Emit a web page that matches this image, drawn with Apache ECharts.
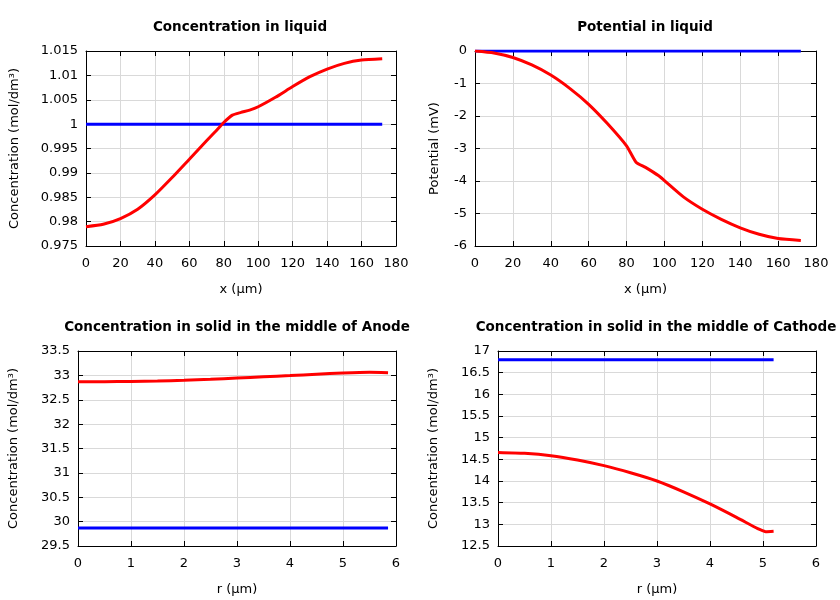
<!DOCTYPE html>
<html><head><meta charset="utf-8">
<script src="https://cdn.jsdelivr.net/npm/echarts@6/dist/echarts.min.js"></script>
<style>html,body{margin:0;padding:0;background:#fff}#c{width:840px;height:600px}</style>
</head><body><div id="c"></div>
<script>
// Chart 1: Concentration in liquid
const liqX = [0,10,20,30,40,50,60,70,75,80,85,90,95,100,110,120,130,140,150,160,172];
const liqConcRed = [0.97897,0.97945,0.98062,0.98253,0.98548,0.98904,0.99281,0.99658,0.99842,1.00034,1.00185,1.0024,1.00287,1.00356,1.0055,1.0077,1.00973,1.0113,1.01247,1.01315,1.01342];
const liqConcBlue = [1,1,1,1,1,1,1,1,1,1,1,1,1,1,1,1,1,1,1,1,1];
// Chart 2: Potential in liquid
const potX = [0,10,20,30,40,50,60,70,80,85,90,97,100,110,120,130,140,150,160,172];
const liqPotRed = [0,-0.06,-0.2,-0.43,-0.74,-1.15,-1.64,-2.24,-2.92,-3.42,-3.58,-3.84,-3.99,-4.49,-4.87,-5.18,-5.44,-5.64,-5.77,-5.83];
const liqPotBlue = [0,0,0,0,0,0,0,0,0,0,0,0,0,0,0,0,0,0,0,0];
// Chart 3: Anode solid
const anodeR = [0,0.5,1,1.5,2,2.5,3,3.5,4,4.5,5,5.5,5.85];
const anodeRed = [32.87,32.87,32.875,32.885,32.9,32.92,32.945,32.97,32.995,33.025,33.05,33.065,33.055];
const anodeBlue = [29.87,29.87,29.87,29.87,29.87,29.87,29.87,29.87,29.87,29.87,29.87,29.87,29.87];
// Chart 4: Cathode solid
const cathR = [0,0.5,1,1.5,2,2.5,3,3.5,4,4.5,4.9,5,5.05,5.2];
const cathRed = [14.66,14.64,14.585,14.485,14.354,14.19,14.0,13.75,13.47,13.16,12.9,12.85,12.83,12.84];
const cathBlue = [16.8,16.8,16.8,16.8,16.8,16.8,16.8,16.8,16.8,16.8,16.8,16.8,16.8,16.8];

const titles = ['Concentration in liquid','Potential in liquid','Concentration in solid in the middle of Anode','Concentration in solid in the middle of Cathode'];
const xNames = ['x (µm)','x (µm)','r (µm)','r (µm)'];
const yNames = ['Concentration (mol/dm³)','Potential (mV)','Concentration (mol/dm³)','Concentration (mol/dm³)'];

const FONT = 'DejaVu Sans';
const grids = [
  {left:86, top:51, width:310, height:195},
  {left:475, top:51, width:341, height:195},
  {left:78, top:351, width:318, height:195},
  {left:498, top:351, width:318, height:195}
];
const xr = [[0,180,20],[0,180,20],[0,6,1],[0,6,1]];
const yr = [[0.975,1.015,0.005],[-6,0,1],[29.5,33.5,0.5],[12.5,17,0.5]];
const yGaps = [65,34,58,58];
const titlePos = [[235,15],[640,15],[232,315],[651,315]];

const pairs = (xs, ys) => xs.map((x,i)=>[x, ys[i]]);
const seriesData = [
  [pairs(liqX, liqConcRed), pairs(liqX, liqConcBlue)],
  [pairs(potX, liqPotRed), pairs(potX, liqPotBlue)],
  [pairs(anodeR, anodeRed), pairs(anodeR, anodeBlue)],
  [pairs(cathR, cathRed), pairs(cathR, cathBlue)]
];

const xAxis = [], yAxis = [], series = [], title = [];
const axLine = {show:true, onZero:false, lineStyle:{color:'#000', width:1}};
const tick = {show:true, inside:true, length:5, lineStyle:{color:'#000'}};
const split = {show:true, lineStyle:{color:'#d9d9d9', width:1}};
for (let g=0; g<4; g++) {
  title.push({text:titles[g], left:titlePos[g][0], top:titlePos[g][1], textAlign:'center',
    textStyle:{fontFamily:FONT, fontSize:13.5, fontWeight:'bold', color:'#000'}});
  xAxis.push({type:'value', gridIndex:g, position:'bottom', min:xr[g][0], max:xr[g][1], interval:xr[g][2],
    name:xNames[g], nameLocation:'middle', nameGap:37,
    nameTextStyle:{fontFamily:FONT, fontSize:13, color:'#000'},
    axisLine:axLine, axisTick:tick, splitLine:split,
    axisLabel:{fontFamily:FONT, fontSize:13, color:'#000', margin:11}});
  xAxis.push({type:'value', gridIndex:g, position:'top', min:xr[g][0], max:xr[g][1], interval:xr[g][2],
    axisLine:axLine, axisTick:tick, splitLine:{show:false}, axisLabel:{show:false}});
  yAxis.push({type:'value', gridIndex:g, position:'left', min:yr[g][0], max:yr[g][1], interval:yr[g][2],
    name:yNames[g], nameLocation:'middle', nameGap:yGaps[g], nameRotate:90,
    nameTextStyle:{fontFamily:FONT, fontSize:13, color:'#000'},
    axisLine:axLine, axisTick:tick, splitLine:split,
    axisLabel:{fontFamily:FONT, fontSize:13, color:'#000', margin:8}});
  yAxis.push({type:'value', gridIndex:g, position:'right', min:yr[g][0], max:yr[g][1], interval:yr[g][2],
    axisLine:axLine, axisTick:tick, splitLine:{show:false}, axisLabel:{show:false}});
  const colors = ['#ff0000','#0000ff'];
  seriesData[g].forEach((d,k)=>{
    series.push({type:'line', xAxisIndex:2*g, yAxisIndex:2*g, data:d, showSymbol:false,
      smooth:0.2,
      lineStyle:{color:colors[k], width:3}, itemStyle:{color:colors[k]}, z:k===0?3:2, animation:false});
  });
}
const chart = echarts.init(document.getElementById('c'));
chart.setOption({animation:false, backgroundColor:'#fff', title, grid:grids, xAxis, yAxis, series});
</script></body></html>
